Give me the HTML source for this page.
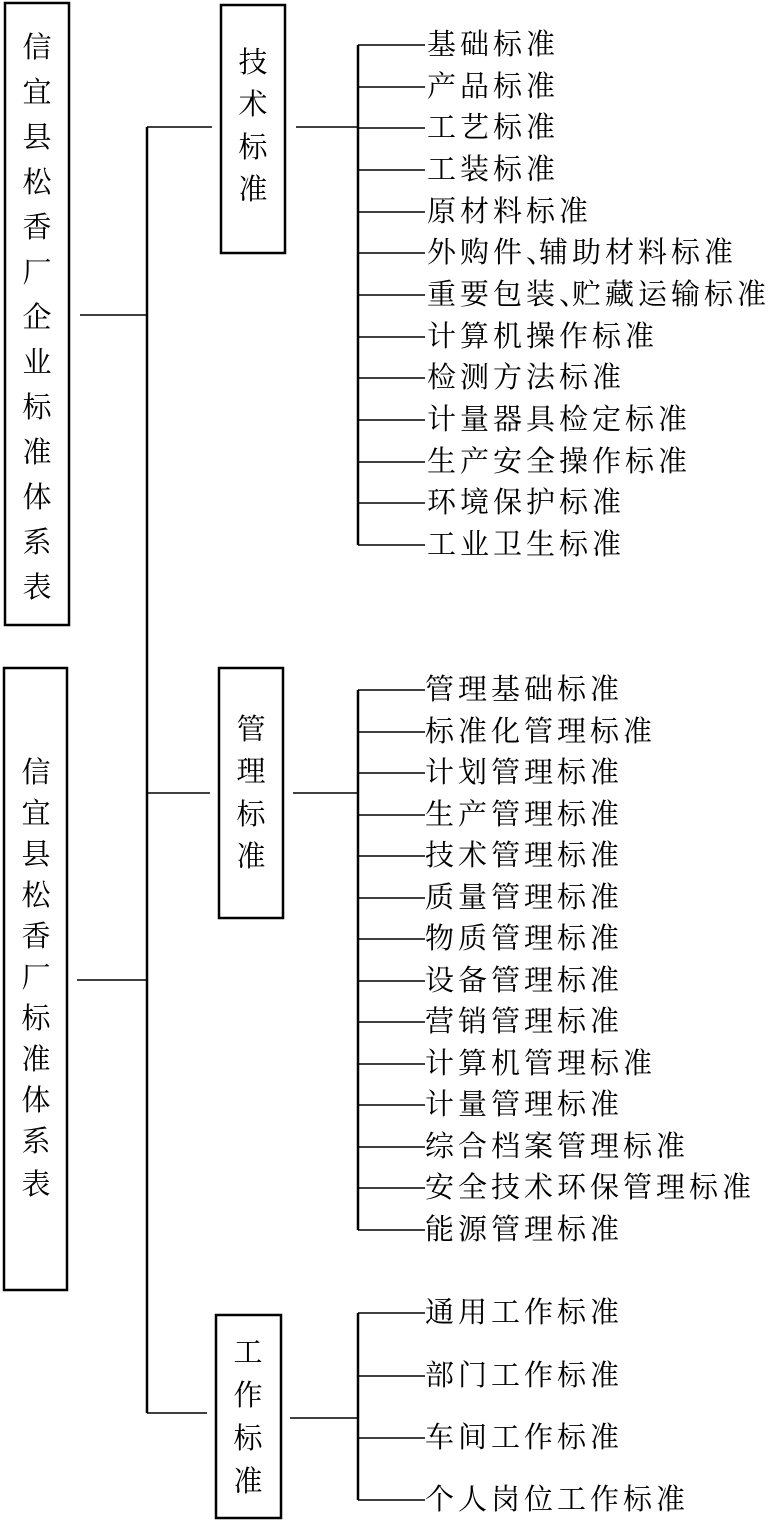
<!DOCTYPE html>
<html><head><meta charset="utf-8"><style>
html,body{margin:0;padding:0;background:#fff}
svg{display:block}
text{font-family:"Liberation Serif","Noto Serif CJK SC","Noto Sans CJK SC",serif;fill:#000}
</style></head><body>
<svg width="772" height="1521" viewBox="0 0 772 1521" xmlns="http://www.w3.org/2000/svg">
<g fill="none" stroke="#000" stroke-width="2.5">
<rect x="5" y="3" width="64" height="622"/>
<rect x="4" y="668" width="63" height="622"/>
<rect x="221" y="5" width="64" height="248"/>
<rect x="219" y="668" width="64" height="250"/>
<rect x="216" y="1315" width="65" height="203"/>
</g>
<g stroke="#000" stroke-width="1.5" fill="none">
<line x1="80" y1="315" x2="147" y2="315"/>
<line x1="77" y1="980" x2="147" y2="980"/>
<line x1="147" y1="127" x2="147" y2="1413" stroke-width="2.5"/>
<line x1="147" y1="127" x2="212" y2="127"/>
<line x1="147" y1="793" x2="210" y2="793"/>
<line x1="147" y1="1413" x2="207" y2="1413"/>
<line x1="296" y1="127" x2="358" y2="127"/>
<line x1="293" y1="793" x2="358" y2="793"/>
<line x1="290" y1="1418" x2="358" y2="1418"/>
<line x1="358" y1="45" x2="358" y2="545" stroke-width="2.5"/>
<line x1="358" y1="690" x2="358" y2="1230" stroke-width="2.5"/>
<line x1="358" y1="1313" x2="358" y2="1500" stroke-width="2.5"/>
</g>
<g stroke="#000" stroke-width="1.5">
<line x1="358" y1="45" x2="425" y2="45"/><line x1="358" y1="87" x2="425" y2="87"/><line x1="358" y1="128" x2="425" y2="128"/><line x1="358" y1="170" x2="425" y2="170"/><line x1="358" y1="212" x2="425" y2="212"/><line x1="358" y1="253" x2="425" y2="253"/><line x1="358" y1="295" x2="425" y2="295"/><line x1="358" y1="337" x2="425" y2="337"/><line x1="358" y1="378" x2="425" y2="378"/><line x1="358" y1="420" x2="425" y2="420"/><line x1="358" y1="462" x2="425" y2="462"/><line x1="358" y1="503" x2="425" y2="503"/><line x1="358" y1="545" x2="425" y2="545"/>
<line x1="358" y1="690" x2="425" y2="690"/><line x1="358" y1="732" x2="425" y2="732"/><line x1="358" y1="773" x2="425" y2="773"/><line x1="358" y1="815" x2="425" y2="815"/><line x1="358" y1="856" x2="425" y2="856"/><line x1="358" y1="898" x2="425" y2="898"/><line x1="358" y1="939" x2="425" y2="939"/><line x1="358" y1="981" x2="425" y2="981"/><line x1="358" y1="1022" x2="425" y2="1022"/><line x1="358" y1="1064" x2="425" y2="1064"/><line x1="358" y1="1105" x2="425" y2="1105"/><line x1="358" y1="1147" x2="425" y2="1147"/><line x1="358" y1="1188" x2="425" y2="1188"/><line x1="358" y1="1230" x2="425" y2="1230"/>
<line x1="358" y1="1313" x2="425" y2="1313"/><line x1="358" y1="1376" x2="425" y2="1376"/><line x1="358" y1="1438" x2="425" y2="1438"/><line x1="358" y1="1500" x2="425" y2="1500"/>
</g>
<g font-size="29" text-anchor="middle" dominant-baseline="central">
<text x="37" y="48">信</text><text x="37" y="93">宜</text><text x="37" y="138">县</text><text x="37" y="183">松</text><text x="37" y="228">香</text><text x="37" y="273">厂</text><text x="37" y="318">企</text><text x="37" y="363">业</text><text x="37" y="408">标</text><text x="37" y="453">准</text><text x="37" y="498">体</text><text x="37" y="543">系</text><text x="37" y="588">表</text>
<text x="36" y="773">信</text><text x="36" y="814">宜</text><text x="36" y="855">县</text><text x="36" y="896">松</text><text x="36" y="937">香</text><text x="36" y="978">厂</text><text x="36" y="1019">标</text><text x="36" y="1060">准</text><text x="36" y="1101">体</text><text x="36" y="1142">系</text><text x="36" y="1185">表</text>
<text x="253" y="63">技</text><text x="253" y="105">术</text><text x="253" y="148">标</text><text x="253" y="190">准</text>
<text x="251" y="730">管</text><text x="251" y="772">理</text><text x="251" y="815">标</text><text x="251" y="857">准</text>
<text x="248" y="1353">工</text><text x="248" y="1396">作</text><text x="248" y="1439">标</text><text x="248" y="1482">准</text>
</g>
<g font-size="29" dominant-baseline="central" letter-spacing="4">
<text x="427" y="45">基础标准</text><text x="427" y="87">产品标准</text><text x="427" y="128">工艺标准</text><text x="427" y="170">工装标准</text><text x="427" y="212">原材料标准</text><text x="427" y="253">外购件、<tspan dx="-20">辅助材料标准</tspan></text><text x="427" y="295">重要包装、<tspan dx="-20">贮藏运输标准</tspan></text><text x="427" y="337">计算机操作标准</text><text x="427" y="378">检测方法标准</text><text x="427" y="420">计量器具检定标准</text><text x="427" y="462">生产安全操作标准</text><text x="427" y="503">环境保护标准</text><text x="427" y="545">工业卫生标准</text>
<text x="425" y="690">管理基础标准</text><text x="425" y="732">标准化管理标准</text><text x="425" y="773">计划管理标准</text><text x="425" y="815">生产管理标准</text><text x="425" y="856">技术管理标准</text><text x="425" y="898">质量管理标准</text><text x="425" y="939">物质管理标准</text><text x="425" y="981">设备管理标准</text><text x="425" y="1022">营销管理标准</text><text x="425" y="1064">计算机管理标准</text><text x="425" y="1105">计量管理标准</text><text x="425" y="1147">综合档案管理标准</text><text x="425" y="1188">安全技术环保管理标准</text><text x="425" y="1230">能源管理标准</text>
<text x="425" y="1313">通用工作标准</text><text x="425" y="1376">部门工作标准</text><text x="425" y="1438">车间工作标准</text><text x="425" y="1500">个人岗位工作标准</text>
</g>
</svg>
</body></html>
